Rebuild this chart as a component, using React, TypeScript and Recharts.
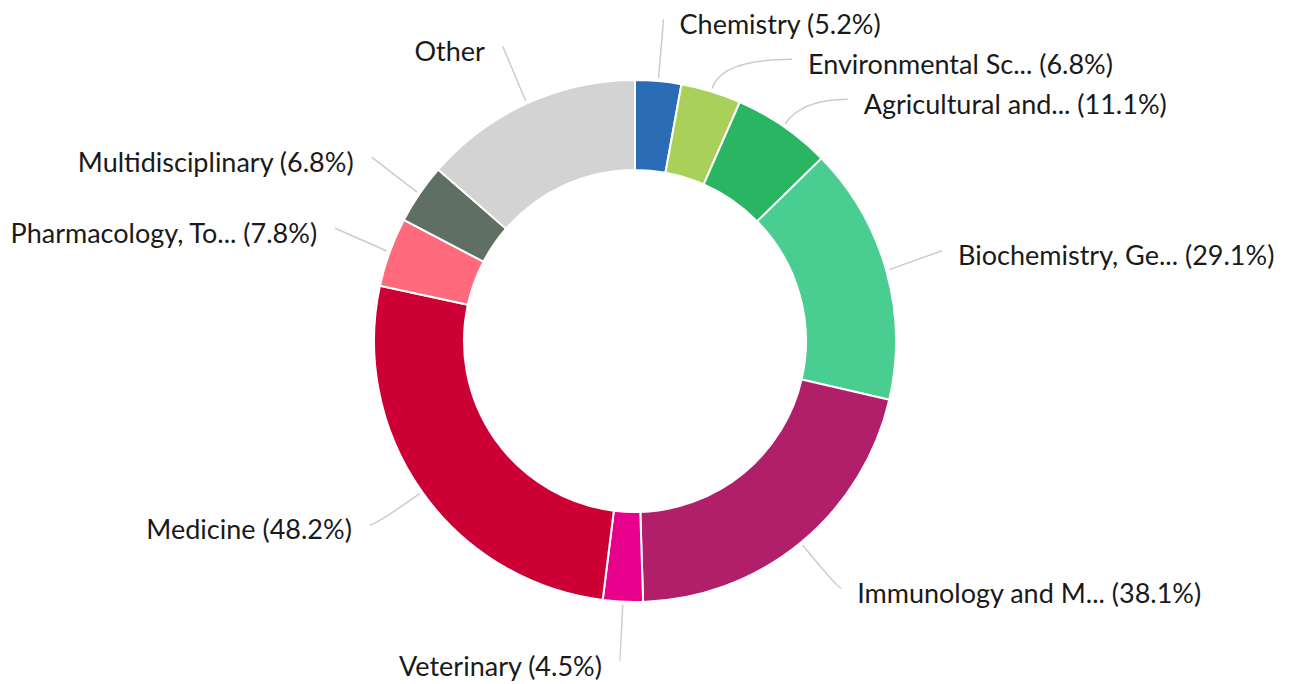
import React from "react";
import { PieChart, Pie, Cell } from "recharts";

const categories = [
  "Chemistry",
  "Environmental Sc...",
  "Agricultural and...",
  "Biochemistry, Ge...",
  "Immunology and M...",
  "Veterinary",
  "Medicine",
  "Pharmacology, To...",
  "Multidisciplinary",
  "Other",
];
const shares = [5.2, 6.8, 11.1, 29.1, 38.1, 4.5, 48.2, 7.8, 6.8, 24.8];
const showShare = [true, true, true, true, true, true, true, true, true, false];
const colors = [
  "#2a6cb6",
  "#a9d15a",
  "#2ab563",
  "#4acd90",
  "#b11e69",
  "#e6008c",
  "#cc0035",
  "#ff6b7c",
  "#5f6f64",
  "#d3d3d3",
];

const W = 1301;
const H = 684;
const CX = 635;
const CY = 341;
const OUTER = 261;
const INNER = 171;
const LABEL_R_TOP = OUTER + 58;
const LABEL_R_BOTTOM = OUTER + 64;
const MIN_GAP = 40;

const data = categories.map((name, i) => ({ name, value: shares[i] }));

// place labels around the ring, then push apart ones that collide on the same side
const layoutLabels = () => {
  const total = shares.reduce((a, b) => a + b, 0);
  let acc = 0;
  const items = shares.map((v, i) => {
    const deg = ((acc + v / 2) / total) * 360;
    acc += v;
    const rad = (deg * Math.PI) / 180;
    const r = Math.cos(rad) >= 0 ? LABEL_R_TOP : LABEL_R_BOTTOM;
    return {
      i,
      r,
      right: Math.sin(rad) >= 0,
      y: CY - r * Math.cos(rad),
      x: 0,
    };
  });
  [true, false].forEach((side) => {
    const group = items.filter((it) => it.right === side).sort((a, b) => a.y - b.y);
    for (let k = 1; k < group.length; k++) {
      if (group[k].y < group[k - 1].y + MIN_GAP) group[k].y = group[k - 1].y + MIN_GAP;
    }
  });
  items.forEach((it) => {
    it.y = Math.min(it.y, H - 18);
    const dy = it.y - CY;
    const dx = Math.sqrt(Math.max(0, it.r * it.r - dy * dy));
    it.x = it.right ? CX + dx : CX - dx;
  });
  return items;
};

const labelPos = layoutLabels();

const renderLabel = (props: any) => {
  const { cx, cy, midAngle, outerRadius, index } = props;
  const pos = labelPos[index];
  const rad = (-midAngle * Math.PI) / 180;
  const sx = cx + (outerRadius + 3) * Math.cos(rad);
  const sy = cy + (outerRadius + 3) * Math.sin(rad);
  const ex = pos.x;
  const ey = pos.y - 4;
  // control point: where the radial line meets the label's row
  const dirX = Math.cos(rad);
  const dirY = Math.sin(rad);
  let qx = ex;
  if (Math.abs(dirY) > 0.05) {
    const t = (ey - sy) / dirY;
    qx = sx + dirX * Math.max(0, t);
  }
  qx = pos.right ? Math.min(qx, ex) : Math.max(qx, ex);
  const text = showShare[index]
    ? `${categories[index]} (${shares[index]}%)`
    : categories[index];
  return (
    <g key={`lbl-${index}`}>
      <path
        d={`M${sx},${sy} Q${qx},${ey} ${ex},${ey}`}
        fill="none"
        stroke="#cccccc"
        strokeWidth={1.5}
      />
      <text
        x={pos.right ? ex + 16 : ex - 18}
        y={pos.y}
        textAnchor={pos.right ? "start" : "end"}
        dominantBaseline="central"
        fill="#1a1a1a"
        fontSize={27}
        fontFamily="Lato, 'Noto Sans', sans-serif"
      >
        {text}
      </text>
    </g>
  );
};

export default function App() {
  return (
    <div style={{ position: "absolute", left: 0, top: 0, width: W, height: H, background: "#fff" }}>
      <PieChart width={W} height={H} margin={{ top: 0, right: 0, bottom: 0, left: 0 }}>
        <Pie
          data={data}
          dataKey="value"
          nameKey="name"
          cx={CX}
          cy={CY}
          innerRadius={INNER}
          outerRadius={OUTER}
          startAngle={90}
          endAngle={-270}
          stroke="#ffffff"
          strokeWidth={2}
          label={renderLabel}
          labelLine={false}
          isAnimationActive={false}
        >
          {data.map((d, i) => (
            <Cell key={d.name} fill={colors[i]} />
          ))}
        </Pie>
      </PieChart>
    </div>
  );
}
